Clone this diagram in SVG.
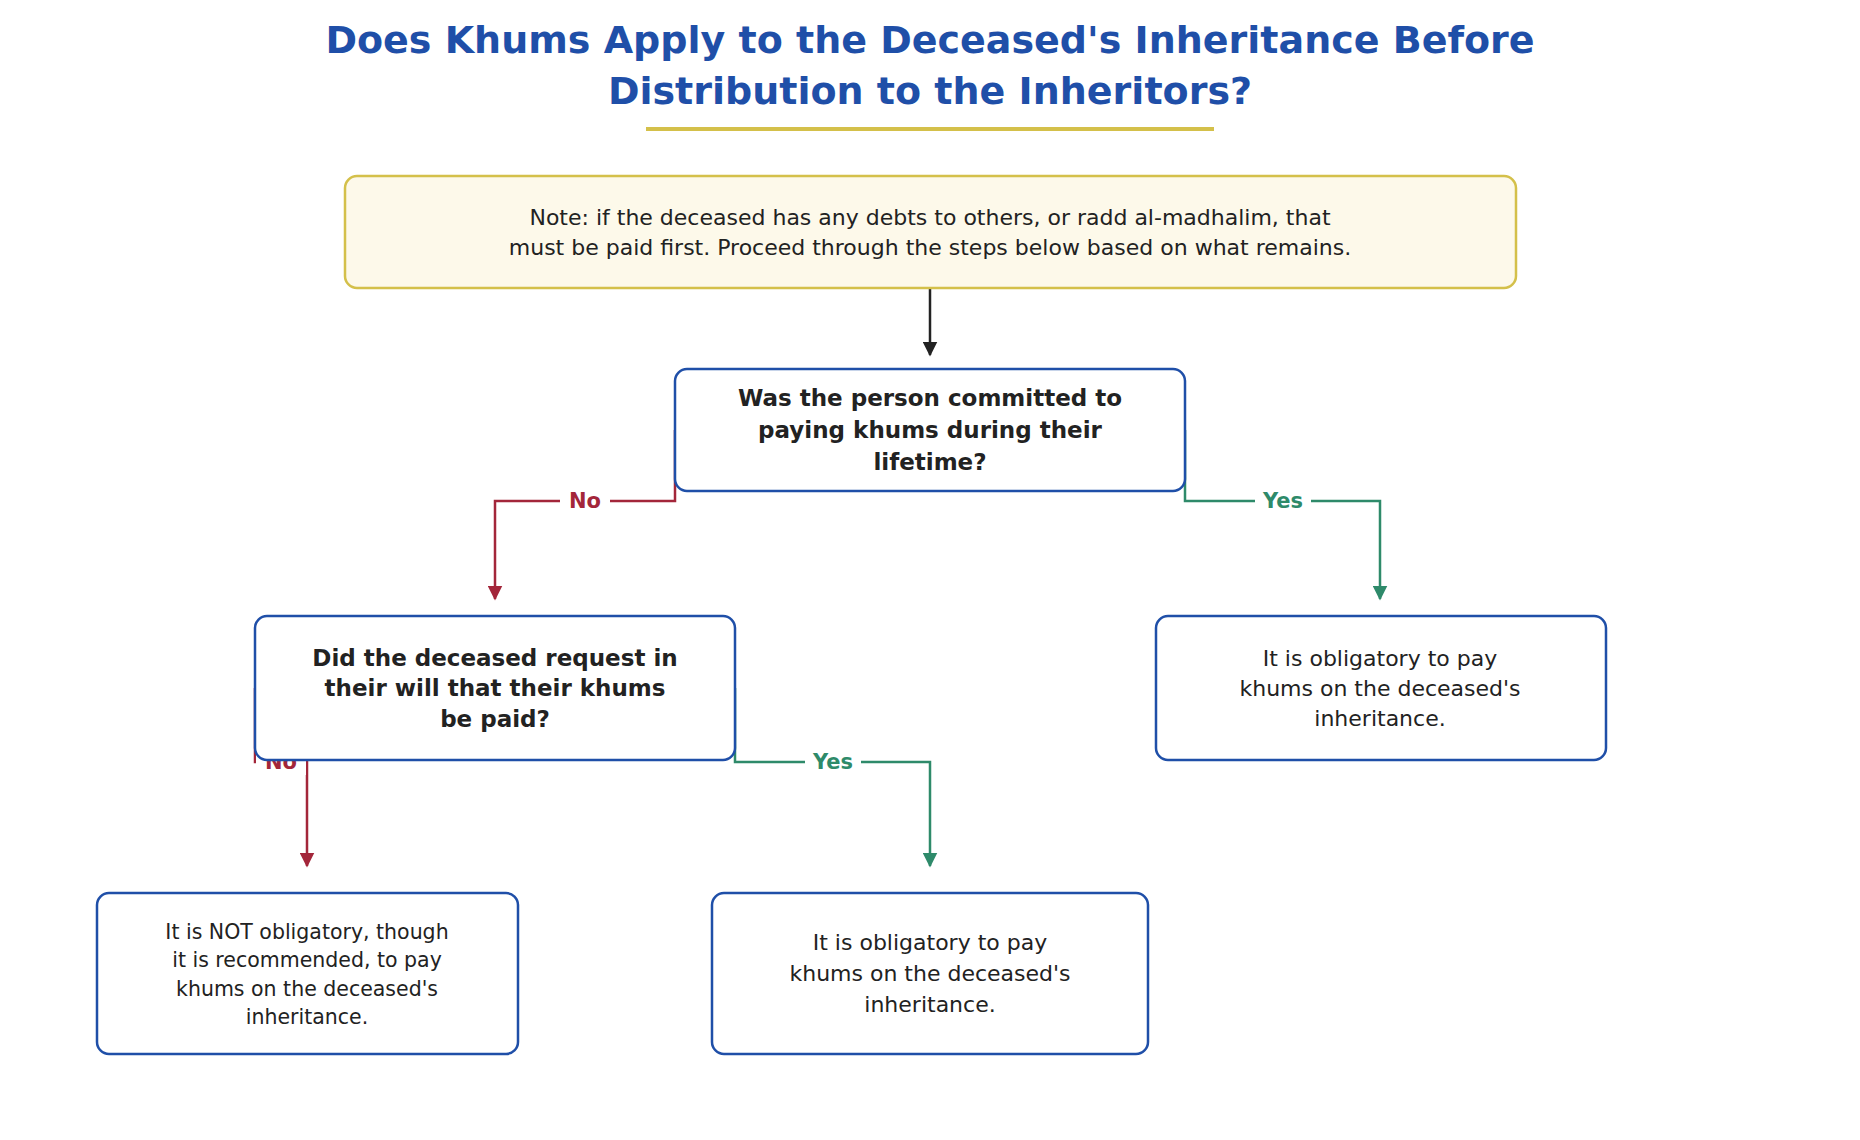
<svg xmlns="http://www.w3.org/2000/svg" width="1860" height="1140" viewBox="0 0 1860 1140">
<style>
text{font-family:"DejaVu Sans",sans-serif;text-anchor:middle;dominant-baseline:central;fill:#222}
.title{font-size:38px;font-weight:bold;fill:#1f4fa8}
.box{fill:#fff;stroke:#1f4fa8;stroke-width:2.5}
.q{font-size:23px;font-weight:bold}
.t{font-size:22px}
.s{font-size:20.5px}
.no{stroke:#a3263a;stroke-width:2.5;fill:none}
.yes{stroke:#2e8a6a;stroke-width:2.5;fill:none}
.ln{font-size:21px;font-weight:bold}
</style>
<defs>
<marker id="ab" viewBox="0 0 10 10" refX="9" refY="5" markerWidth="6" markerHeight="6" orient="auto"><path d="M0,0L10,5L0,10z" fill="#222"/></marker>
<marker id="ar" viewBox="0 0 10 10" refX="9" refY="5" markerWidth="6" markerHeight="6" orient="auto"><path d="M0,0L10,5L0,10z" fill="#a3263a"/></marker>
<marker id="ag" viewBox="0 0 10 10" refX="9" refY="5" markerWidth="6" markerHeight="6" orient="auto"><path d="M0,0L10,5L0,10z" fill="#2e8a6a"/></marker>
</defs>
<rect width="1860" height="1140" fill="#fff"/>
<g id="title">
<text class="title" x="930" y="40">Does Khums Apply to the Deceased's Inheritance Before</text>
<text class="title" x="930" y="91">Distribution to the Inheritors?</text>
<line x1="646" y1="129" x2="1214" y2="129" stroke="#d4c04a" stroke-width="4"/>
</g>
<g id="connectors">
<line x1="930" y1="288" x2="930" y2="355" stroke="#222" stroke-width="2.5" marker-end="url(#ab)"/>
<path class="no" d="M675,430V501H495V599" marker-end="url(#ar)"/>
<rect x="560" y="488" width="50" height="26" fill="#fff"/>
<text class="ln" x="585" y="501" fill="#a3263a" style="fill:#a3263a">No</text>
<path class="yes" d="M1185,430V501H1380V599" marker-end="url(#ag)"/>
<rect x="1255" y="488" width="56" height="26" fill="#fff"/>
<text class="ln" x="1283" y="501" style="fill:#2e8a6a">Yes</text>
<path class="no" d="M255,688V762H307V866" marker-end="url(#ar)"/>
<rect x="256" y="749" width="50" height="26" fill="#fff"/>
<text class="ln" x="281" y="762" style="fill:#a3263a">No</text>
<path class="yes" d="M735,688V762H930V866" marker-end="url(#ag)"/>
<rect x="805" y="749" width="56" height="26" fill="#fff"/>
<text class="ln" x="833" y="762" style="fill:#2e8a6a">Yes</text>
</g>
<g id="note">
<rect x="345" y="176" width="1171" height="112" rx="12" fill="#fdf9ea" stroke="#d4c04a" stroke-width="2.5"/>
<text class="t" x="930" y="217">Note: if the deceased has any debts to others, or radd al-madhalim, that</text>
<text class="t" x="930" y="247">must be paid first. Proceed through the steps below based on what remains.</text>
</g>
<g id="q1">
<rect class="box" x="675" y="369" width="510" height="122" rx="12"/>
<text class="q" x="930" y="398">Was the person committed to</text>
<text class="q" x="930" y="430">paying khums during their</text>
<text class="q" x="930" y="462">lifetime?</text>
</g>
<g id="q2">
<rect class="box" x="255" y="616" width="480" height="144" rx="12"/>
<text class="q" x="495" y="658">Did the deceased request in</text>
<text class="q" x="495" y="688">their will that their khums</text>
<text class="q" x="495" y="719">be paid?</text>
</g>
<g id="r1">
<rect class="box" x="1156" y="616" width="450" height="144" rx="12"/>
<text class="t" x="1380" y="658">It is obligatory to pay</text>
<text class="t" x="1380" y="688">khums on the deceased's</text>
<text class="t" x="1380" y="718">inheritance.</text>
</g>
<g id="r2">
<rect class="box" x="97" y="893" width="421" height="161" rx="12"/>
<text class="s" x="307" y="932">It is NOT obligatory, though</text>
<text class="s" x="307" y="960">it is recommended, to pay</text>
<text class="s" x="307" y="989">khums on the deceased's</text>
<text class="s" x="307" y="1017">inheritance.</text>
</g>
<g id="r3">
<rect class="box" x="712" y="893" width="436" height="161" rx="12"/>
<text class="t" x="930" y="942">It is obligatory to pay</text>
<text class="t" x="930" y="973">khums on the deceased's</text>
<text class="t" x="930" y="1004">inheritance.</text>
</g>
</svg>
